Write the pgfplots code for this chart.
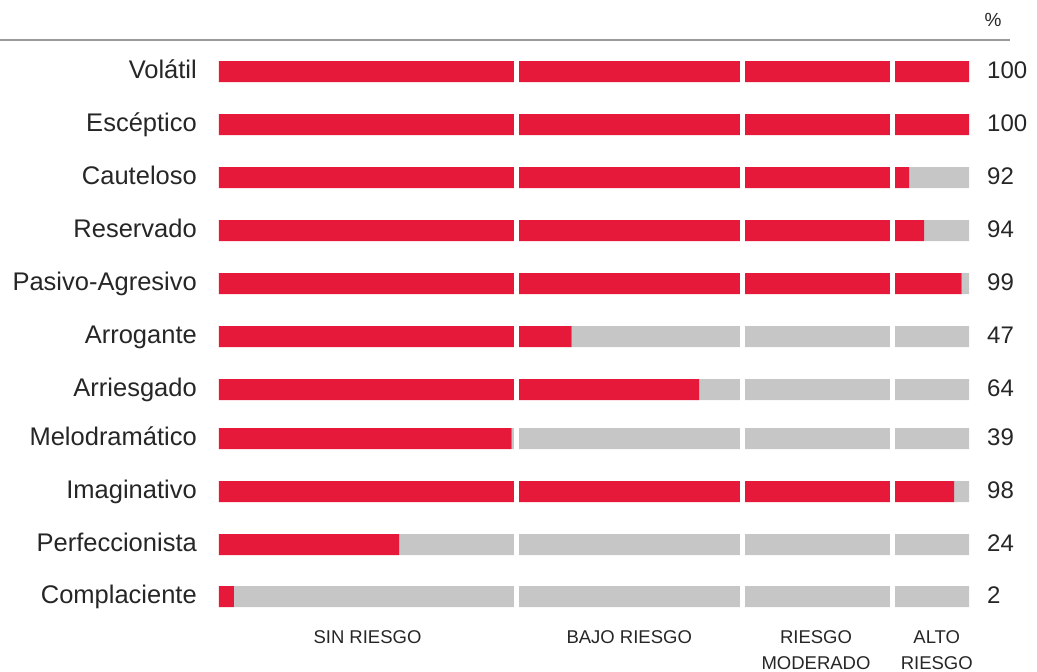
\documentclass[border=0pt]{standalone}
\usepackage{pgfplots}
\pgfplotsset{compat=1.18}
\usepackage{pgfplotstable}
\usepackage{fontspec}
\setmainfont{Liberation Sans}

\definecolor{riskred}{HTML}{E6193A}
\definecolor{riskgrey}{HTML}{C6C6C6}
\definecolor{txt}{HTML}{262626}
\definecolor{rule}{HTML}{999999}

% y = row centre in picture pixels (from the top), red = score, grey = 100 - score
\pgfplotstableread{
y     red  grey
71.5  100  0
124.5 100  0
177.5 92   8
230.5 94   6
283.5 99   1
336.5 47   53
389.5 64   36
438.5 39   61
491.5 98   2
544.5 24   76
596.5 2    98
}\scores

\begin{document}
\begin{tikzpicture}[x=1pt,y=1pt]
  \useasboundingbox (0,0) rectangle (1037,672);

  \begin{axis}[
    at={(219pt,632pt)}, anchor=north west,
    scale only axis,
    width=750pt, height=582pt,
    xmin=0, xmax=100,
    ymin=40, ymax=622,
    y dir=reverse,
    xbar stacked,
    bar width=21,
    axis line style={draw=none},
    major tick style={draw=none},
    ytick={71.5,124.5,177.5,230.5,283.5,336.5,389.5,438.5,491.5,544.5,596.5},
    yticklabels={Volátil,Escéptico,Cauteloso,Reservado,Pasivo-Agresivo,Arrogante,Arriesgado,Melodramático,Imaginativo,Perfeccionista,Complaciente},
    yticklabel style={anchor=base east, inner sep=0pt, xshift=-22pt, yshift=-6.5pt,
      font=\fontsize{25.5}{28}\selectfont, text=txt},
    xtick={19.8,54.7,79.6,95.7},
    xticklabels={SIN RIESGO,BAJO RIESGO,RIESGO\\MODERADO,ALTO\\RIESGO},
    xticklabel style={anchor=north, inner sep=0pt, yshift=-8.5pt, align=center,
      font=\fontsize{18.5}{26}\selectfont, text=txt},
    extra x ticks={39.7,69.8,89.8},
    extra x tick labels={},
    extra x tick style={grid=major, major grid style={white, line width=5pt}},
    axis on top,
    clip=false,
  ]
    \addplot[fill=riskred, draw=none] table[x=red, y=y] {\scores};
    \addplot[fill=riskgrey, draw=none] table[x=grey, y=y] {\scores};
  \end{axis}

  % values on the right
  \begin{axis}[
    at={(219pt,632pt)}, anchor=north west,
    scale only axis,
    width=750pt, height=582pt,
    xmin=0, xmax=100,
    ymin=40, ymax=622,
    y dir=reverse,
    axis line style={draw=none},
    major tick style={draw=none},
    xtick=\empty,
    yticklabel pos=right,
    ytick={71.5,124.5,177.5,230.5,283.5,336.5,389.5,438.5,491.5,544.5,596.5},
    yticklabels={100,100,92,94,99,47,64,39,98,24,2},
    yticklabel style={anchor=base west, inner sep=0pt, xshift=18pt, yshift=-7pt,
      font=\fontsize{24}{28}\selectfont, text=txt},
  ]
  \end{axis}

  % top rule and unit
  \draw[rule, line width=1.2pt] (0,632) -- (1010,632);
  \node[txt, anchor=base, inner sep=0pt, font=\fontsize{19}{22}\selectfont] at (993,645) {\%};
\end{tikzpicture}
\end{document}
